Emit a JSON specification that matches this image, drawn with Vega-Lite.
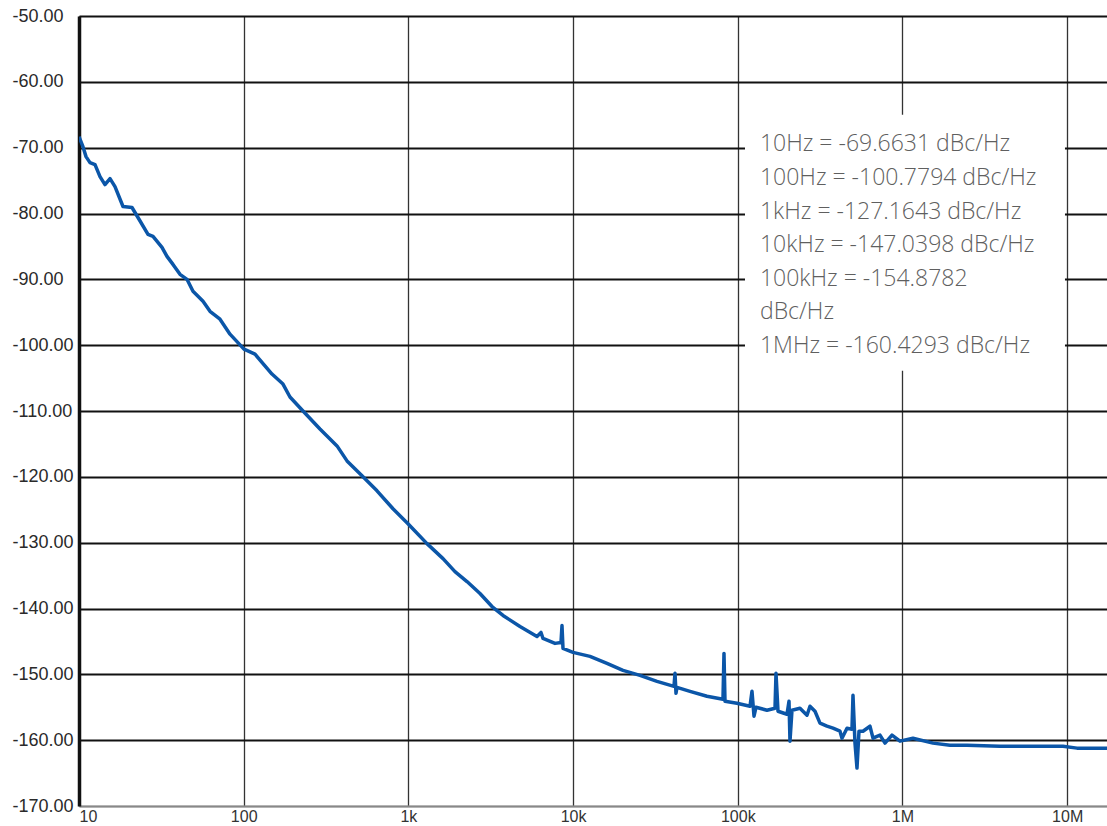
{
  "$schema": "https://vega.github.io/schema/vega-lite/v6.json",
  "width": 1028,
  "height": 790,
  "autosize": {"type": "none"},
  "padding": {"left": 79, "top": 16, "right": 0, "bottom": 20},
  "background": "white",
  "config": {"view": {"stroke": null}},
  "datasets": {
    "curve": [
      {"f": 10, "db": -68.33}, {"f": 10.57, "db": -69.85}, {"f": 11.03, "db": -71.36}, {"f": 11.66, "db": -72.27},
      {"f": 12.51, "db": -72.58}, {"f": 13.41, "db": -74.39}, {"f": 14.38, "db": -75.61}, {"f": 15.43, "db": -74.7},
      {"f": 16.54, "db": -75.91}, {"f": 18.5, "db": -78.94}, {"f": 20.98, "db": -79.09}, {"f": 22.81, "db": -80.61},
      {"f": 26.24, "db": -83.18}, {"f": 28.14, "db": -83.48}, {"f": 31.91, "db": -85.15}, {"f": 34.21, "db": -86.52},
      {"f": 37.21, "db": -87.73}, {"f": 41.04, "db": -89.24}, {"f": 45.26, "db": -90.0}, {"f": 49.22, "db": -91.82},
      {"f": 56.61, "db": -93.33}, {"f": 62.42, "db": -94.85}, {"f": 71.8, "db": -96.06}, {"f": 82.58, "db": -98.33},
      {"f": 100.4, "db": -100.6}, {"f": 117.1, "db": -101.36}, {"f": 148.5, "db": -104.39}, {"f": 173.2, "db": -105.91},
      {"f": 191.0, "db": -107.88}, {"f": 229.1, "db": -110.0}, {"f": 290.5, "db": -112.73}, {"f": 368.6, "db": -115.3},
      {"f": 423.9, "db": -117.58}, {"f": 522.9, "db": -119.85}, {"f": 644.8, "db": -122.12}, {"f": 806.3, "db": -124.85},
      {"f": 994.5, "db": -127.12}, {"f": 1297, "db": -130.15}, {"f": 1623, "db": -132.42}, {"f": 1918, "db": -134.39},
      {"f": 2269, "db": -135.91}, {"f": 2721, "db": -137.73}, {"f": 3218, "db": -139.7}, {"f": 3753, "db": -141.06},
      {"f": 4760, "db": -142.73}, {"f": 6037, "db": -144.24}, {"f": 6385, "db": -143.64}, {"f": 6567, "db": -144.55},
      {"f": 7767, "db": -145.3}, {"f": 8444, "db": -145.15}, {"f": 8563, "db": -142.58}, {"f": 8684, "db": -146.06},
      {"f": 9986, "db": -146.67}, {"f": 12664, "db": -147.27}, {"f": 16065, "db": -148.33}, {"f": 20091, "db": -149.39},
      {"f": 25482, "db": -150.15}, {"f": 32318, "db": -151.06}, {"f": 40990, "db": -151.82}, {"f": 41568, "db": -149.85},
      {"f": 42153, "db": -152.88}, {"f": 42750, "db": -151.97}, {"f": 51264, "db": -152.58}, {"f": 65013, "db": -153.33},
      {"f": 81306, "db": -153.79}, {"f": 82455, "db": -146.82}, {"f": 83623, "db": -154.09}, {"f": 98877, "db": -154.39},
      {"f": 118620, "db": -154.85}, {"f": 121980, "db": -152.58}, {"f": 125440, "db": -156.36}, {"f": 128990, "db": -155.0},
      {"f": 150420, "db": -155.45}, {"f": 168260, "db": -155.15}, {"f": 170620, "db": -149.85}, {"f": 175470, "db": -155.61},
      {"f": 198990, "db": -156.06}, {"f": 204650, "db": -154.09}, {"f": 207470, "db": -160.15}, {"f": 213350, "db": -155.45},
      {"f": 238560, "db": -155.15}, {"f": 263150, "db": -156.21}, {"f": 274420, "db": -154.85}, {"f": 294300, "db": -155.61},
      {"f": 315600, "db": -157.42}, {"f": 347950, "db": -157.88}, {"f": 378530, "db": -158.18}, {"f": 417410, "db": -158.64},
      {"f": 429220, "db": -159.7}, {"f": 460400, "db": -158.18}, {"f": 493600, "db": -158.33}, {"f": 500600, "db": -153.18},
      {"f": 514800, "db": -160.45}, {"f": 529400, "db": -164.24}, {"f": 544400, "db": -158.64}, {"f": 575700, "db": -158.64},
      {"f": 634900, "db": -157.88}, {"f": 662100, "db": -159.7}, {"f": 730100, "db": -159.24}, {"f": 783100, "db": -160.45},
      {"f": 863600, "db": -159.24}, {"f": 965600, "db": -160.15}, {"f": 1158000, "db": -159.7}, {"f": 1532000, "db": -160.45},
      {"f": 1943000, "db": -160.76}, {"f": 2464000, "db": -160.76}, {"f": 3908000, "db": -160.91}, {"f": 9430000, "db": -160.91},
      {"f": 11470000, "db": -161.21}, {"f": 17450000, "db": -161.21}
    ],
    "box": [{"f": 110600, "f2": 9696000, "db": -65.0, "db2": -103.9}],
    "notes": [
      {"f": 136400, "db": -69.5, "t": "10Hz = -69.6631 dBc/Hz"},
      {"f": 136400, "db": -74.6, "t": "100Hz = -100.7794 dBc/Hz"},
      {"f": 136400, "db": -79.7, "t": "1kHz = -127.1643 dBc/Hz"},
      {"f": 136400, "db": -84.8, "t": "10kHz = -147.0398 dBc/Hz"},
      {"f": 136400, "db": -89.9, "t": "100kHz = -154.8782"},
      {"f": 136400, "db": -95.0, "t": "dBc/Hz"},
      {"f": 136400, "db": -100.1, "t": "1MHz = -160.4293 dBc/Hz"}
    ]
  },
  "encoding": {
    "x": {
      "field": "f", "type": "quantitative",
      "scale": {"type": "log", "domain": [10, 17450000], "nice": false},
      "axis": {
        "title": null,
        "values": [10, 100, 1000, 10000, 100000, 1000000, 10000000],
        "labelExpr": "datum.value >= 1000000 ? format(datum.value/1000000,'d') + 'M' : datum.value >= 1000 ? format(datum.value/1000,'d') + 'k' : format(datum.value,'d')",
        "labelFont": "Liberation Sans", "labelFontSize": 16, "labelColor": "#333",
        "labelPadding": 2, "ticks": false,
        "domain": true, "domainColor": "#888", "domainWidth": 1.5,
        "grid": true, "gridColor": "#333", "gridWidth": 1.3
      }
    },
    "y": {
      "field": "db", "type": "quantitative",
      "scale": {"domain": [-170, -50], "nice": false, "zero": false},
      "axis": {
        "title": null,
        "values": [-50, -60, -70, -80, -90, -100, -110, -120, -130, -140, -150, -160, -170],
        "labelExpr": "'-' + format(-datum.value, '.2f')",
        "labelFont": "Liberation Sans", "labelFontSize": 18, "labelColor": "#2a2a2a",
        "labelAlign": "left", "labelPadding": 67, "ticks": false,
        "domain": true, "domainColor": "#111", "domainWidth": 3.5,
        "grid": true,
        "gridColor": {"condition": {"test": "datum.value === -170", "value": "#888"}, "value": "#111"},
        "gridWidth": 2
      }
    }
  },
  "layer": [
    {
      "data": {"name": "box"},
      "mark": {"type": "rect", "fill": "white", "stroke": null},
      "encoding": {"x2": {"field": "f2"}, "y2": {"field": "db2"}}
    },
    {
      "data": {"name": "notes"},
      "mark": {"type": "text", "align": "left", "baseline": "middle", "font": "Open Sans", "fontWeight": 300, "fontSize": 23, "fill": "#5f5f5f"},
      "encoding": {"text": {"field": "t"}}
    },
    {
      "data": {"name": "curve"},
      "mark": {"type": "line", "stroke": "#0b56a8", "strokeWidth": 3.5, "strokeJoin": "round", "clip": true}
    }
  ]
}
